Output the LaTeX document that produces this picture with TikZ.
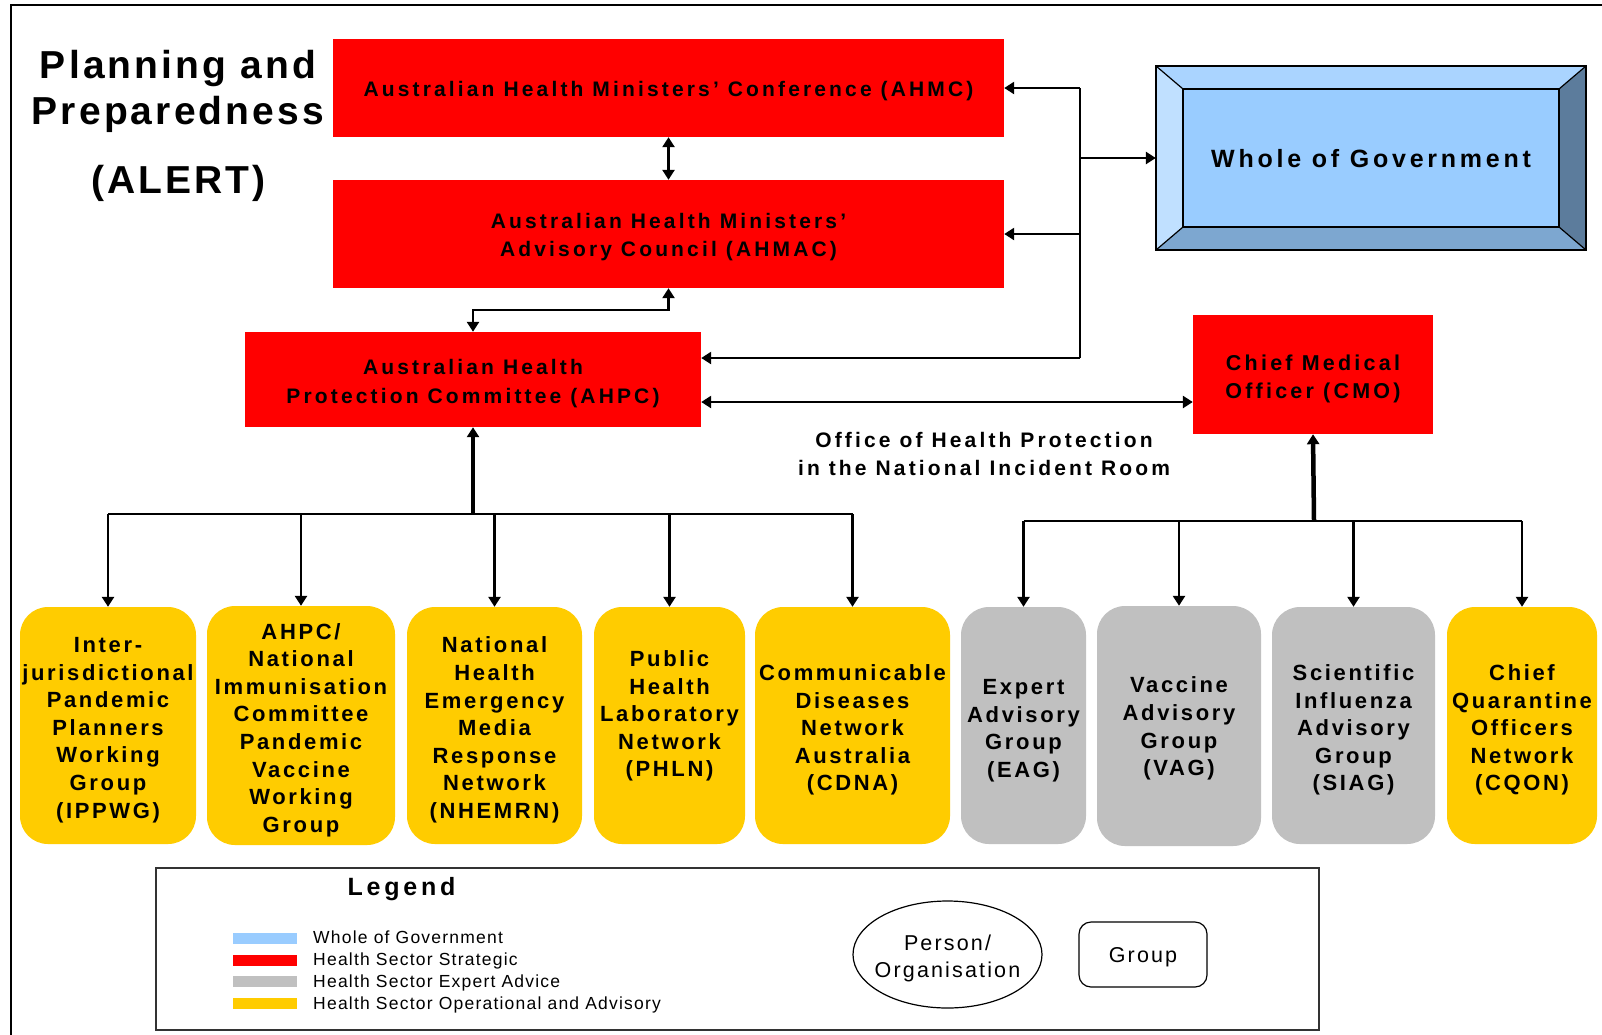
\documentclass[tikz,border=0pt]{standalone}
\usepackage{fontspec}
\setmainfont{Liberation Sans}
\newfontfamily\bsp{Liberation Sans}[LetterSpace=12]
\newfontfamily\csp{Liberation Sans}[LetterSpace=15]
\newfontfamily\tsp{Liberation Sans}[LetterSpace=8]
\newfontfamily\lsp{Liberation Sans}[LetterSpace=7]
\newfontfamily\esp{Liberation Sans}[LetterSpace=10]
\usetikzlibrary{arrows.meta,shapes.geometric}
\definecolor{hred}{HTML}{FF0000}
\definecolor{hyel}{HTML}{FFCC00}
\definecolor{hgry}{HTML}{C0C0C0}
\definecolor{hblu}{HTML}{99CCFF}
\definecolor{bvtop}{HTML}{AAD4FF}
\definecolor{bvleft}{HTML}{C0E0FF}
\definecolor{bvbot}{HTML}{7DA7D0}
\definecolor{bvright}{HTML}{5C7C9C}
\definecolor{lgframe}{HTML}{333333}
\begin{document}
\begin{tikzpicture}[x=1pt,y=-1pt,
  >={Triangle[length=10pt,width=12pt]},
  redbox/.style={fill=hred, inner sep=0pt},
  redtext/.style={inner sep=0pt, align=center,
    font=\csp\bfseries\fontsize{21}{28.5}\selectfont},
  grpbox/.style={rounded corners=28pt, inner sep=0pt, minimum height=237pt},
  grptext/.style={inner sep=0pt, align=center,
    font=\bsp\bfseries\fontsize{22}{27.6}\selectfont},
  ybox/.style={grpbox, fill=hyel},
  gbox/.style={grpbox, fill=hgry},
  link/.style={line width=2.5pt},
  biglink/.style={line width=4.5pt},
  titletext/.style={font=\tsp\bfseries\fontsize{39}{46}\selectfont, inner sep=0pt},
  legtext/.style={font=\lsp\fontsize{17.5}{21}\selectfont, inner sep=0pt, anchor=base west},
  symtext/.style={inner sep=0pt, align=center, font=\esp\fontsize{21.5}{27.5}\selectfont},
  bevel/.style={draw=black, line width=1.2pt, line join=miter},
]
\useasboundingbox (0,0) rectangle (1602,1034);
\fill[white] (0,0) rectangle (1602,1034);

% outer frame (left and top edges)
\draw[line width=2.5pt] (11,1040) -- (11,5) -- (1610,5);

% title
\node[titletext, anchor=base] (t1) at (178,78) {Planning and};
\node[titletext, anchor=base] (t2) at (178,124) {Preparedness};
\node[titletext, anchor=base] (t3) at (178.5,193) {(ALERT)};

% strategic boxes
\node[redbox, minimum width=671pt, minimum height=98pt] (ahmc) at (668.5,88) {};
\node[redtext] (ahmct) at ([yshift=-3pt]ahmc.center)
  {Australian Health Ministers’ Conference (AHMC)};
\node[redbox, minimum width=671pt, minimum height=108pt] (ahmac) at (668.5,234) {};
\node[redtext] (ahmact) at ([yshift=-3pt]ahmac.center)
  {Australian Health Ministers’\\Advisory Council (AHMAC)};
\node[redbox, minimum width=456pt, minimum height=95pt] (ahpc) at (473,379.5) {};
\node[redtext] (ahpct) at ([yshift=-4pt]ahpc.center)
  {Australian Health\\Protection Committee (AHPC)};
\node[redbox, minimum width=240pt, minimum height=119pt] (cmo) at (1313,374.5) {};
\node[redtext, font=\csp\bfseries\fontsize{21.5}{28}\selectfont] (cmot) at ([yshift=-4pt]cmo.center)
  {Chief Medical\\Officer (CMO)};

% whole of government bevelled box
\fill[bvtop] (1156,66) -- (1586,66) -- (1559,89) -- (1183,89) -- cycle;
\fill[bvleft] (1156,66) -- (1183,89) -- (1183,227) -- (1156,250) -- cycle;
\fill[bvbot] (1156,250) -- (1183,227) -- (1559,227) -- (1586,250) -- cycle;
\fill[bvright] (1586,66) -- (1559,89) -- (1559,227) -- (1586,250) -- cycle;
\fill[hblu] (1183,89) rectangle (1559,227);
\draw[bevel] (1156,66) rectangle (1586,250);
\draw[bevel] (1183,89) rectangle (1559,227);
\draw[bevel] (1156,66) -- (1183,89) (1586,66) -- (1559,89)
  (1156,250) -- (1183,227) (1586,250) -- (1559,227);
\node[inner sep=0pt, minimum width=430pt, minimum height=184pt] (wog) at (1371,158) {};
\node[inner sep=0pt, font=\csp\bfseries\fontsize{25}{30}\selectfont] (wogt) at ([yshift=-1pt]wog.center)
  {Whole of Government};

% office label
\node[redtext] (ohp) at (984,454)
  {Office of Health Protection\\in the National Incident Room};

% operational / expert boxes
\node[ybox, minimum width=176pt] (b1) at (108,725.5) {};
\node[grptext] (b1t) at ([yshift=-4.5pt]b1.center)
  {Inter-\\jurisdictional\\Pandemic\\Planners\\Working\\Group\\(IPPWG)};
\node[ybox, minimum width=188pt, minimum height=239pt] (b2) at (301,725.5) {};
\node[grptext] (b2t) at ([yshift=-4.5pt]b2.center)
  {AHPC/\\National\\Immunisation\\Committee\\Pandemic\\Vaccine\\Working\\Group};
\node[ybox, minimum width=175pt] (b3) at (494.5,725.5) {};
\node[grptext] (b3t) at ([yshift=-4.5pt]b3.center)
  {National\\Health\\Emergency\\Media\\Response\\Network\\(NHEMRN)};
\node[ybox, minimum width=151pt] (b4) at (669.5,725.5) {};
\node[grptext] (b4t) at ([yshift=-2pt]b4.center)
  {Public\\Health\\Laboratory\\Network\\(PHLN)\\~};
\node[ybox, minimum width=195pt] (b5) at (852.5,725.5) {};
\node[grptext] (b5t) at ([yshift=-4.5pt]b5.center)
  {Communicable\\Diseases\\Network\\Australia\\(CDNA)};
\node[gbox, minimum width=125pt] (b6) at (1023.5,725.5) {};
\node[grptext] (b6t) at ([yshift=-5pt]b6.center)
  {Expert\\Advisory\\Group\\(EAG)};
\node[gbox, minimum width=164pt, minimum height=240pt] (b7) at (1179,726) {};
\node[grptext] (b7t) at ([yshift=-2.5pt]b7.center)
  {Vaccine\\Advisory\\Group\\(VAG)};
\node[gbox, minimum width=163pt] (b8) at (1353.5,725.5) {};
\node[grptext] (b8t) at ([yshift=-4.5pt]b8.center)
  {Scientific\\Influenza\\Advisory\\Group\\(SIAG)};
\node[ybox, minimum width=150pt] (b9) at (1522,725.5) {};
\node[grptext] (b9t) at ([yshift=-4.5pt]b9.center)
  {Chief\\Quarantine\\Officers\\Network\\(CQON)};

% connectors: top section
\draw[link, <->] (ahmc.south) -- (ahmac.south |- ahmac.north);
\draw[link, <->] (ahmac.south) -- ++(0,22) -| (ahpc.north);
\coordinate (s1) at (1080,88);
\coordinate (s4) at (1080,358);
\coordinate (cmoy) at (900,402);
\draw[link] (s1) -- (s4);
\draw[link, ->] (s1) -- (ahmc.east);
\draw[link, ->] (ahmac.east -| s1) -- (ahmac.east);
\draw[link, ->] (wog.west -| s1) -- (wog.west);
\draw[link, ->] (s4) -- (s4 -| ahpc.east);
\draw[link, <->] (ahpc.east |- cmoy) -- (cmo.west |- cmoy);

% left bus
\coordinate (lbus) at (473,514);
\draw[biglink, ->] (lbus) -- (ahpc.south);
\draw[link] (b1.north |- lbus) -- (b5.north |- lbus);
\foreach \b in {b1,b2,b3,b4,b5} \draw[link, ->] (\b.north |- lbus) -- (\b.north);

% right bus
\coordinate (rbus) at (1314,521);
\draw[biglink, ->] (rbus) -- (cmo.south);
\draw[link] (b6.north |- rbus) -- (b9.north |- rbus);
\foreach \b in {b6,b7,b8,b9} \draw[link, ->] (\b.north |- rbus) -- (\b.north);

% legend
\node[draw=lgframe, line width=1.5pt, minimum width=1163pt, minimum height=162pt, inner sep=0pt] (legend) at (737.5,949) {};
\node[anchor=base, inner sep=0pt, font=\csp\bfseries\fontsize{25}{30}\selectfont] (legtitle) at (401.5,895) {Legend};
\fill[hblu] (233,933) rectangle (297,944);
\fill[hred] (233,955) rectangle (297,966);
\fill[hgry] (233,976) rectangle (297,987);
\fill[hyel] (233,998) rectangle (297,1009);
\node[legtext] (l1) at (313,943) {Whole of Government};
\node[legtext] (l2) at (313,965) {Health Sector Strategic};
\node[legtext] (l3) at (313,987) {Health Sector Expert Advice};
\node[legtext] (l4) at (313,1009) {Health Sector Operational and Advisory};
\node[ellipse, draw, line width=1.2pt, minimum width=189pt, minimum height=107pt, inner sep=0pt] (person) at (947.5,954.5) {};
\node[symtext] (persont) at ([yshift=-4pt]person.center) {Person/\\Organisation};
\node[draw, line width=1.2pt, rounded corners=12pt, minimum width=128pt, minimum height=65pt,
  inner sep=0pt] (group) at (1143,954.5) {};
\node[symtext] (groupt) at ([yshift=-3pt]group.center) {Group};
\end{tikzpicture}
\end{document}
